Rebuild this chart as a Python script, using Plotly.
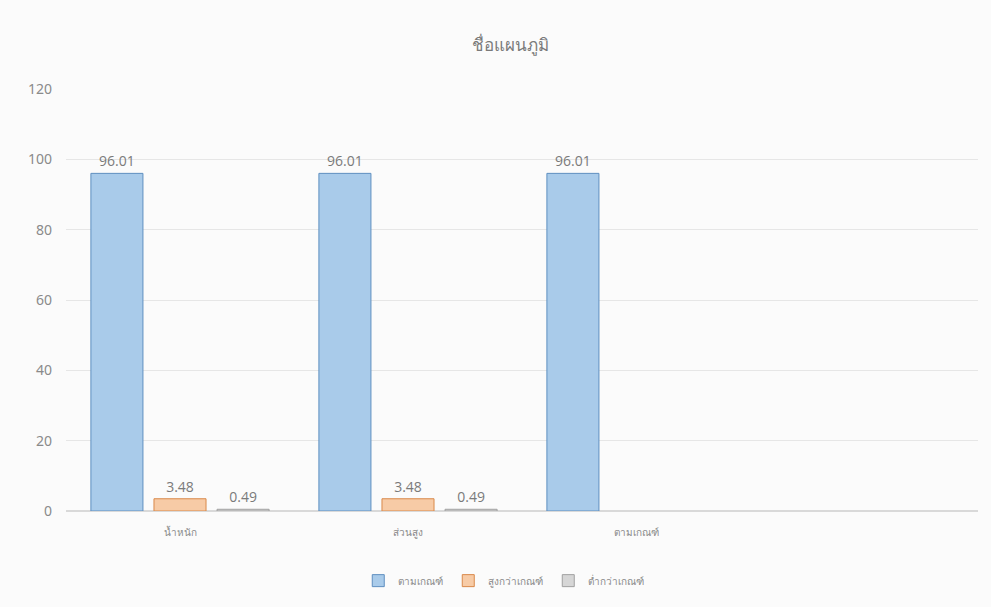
import plotly.graph_objects as go

categories = ["น้ำหนัก", "ส่วนสูง", "ตามเกณฑ์", " "]
series_names = ["ตามเกณฑ์", "สูงกว่าเกณฑ์", "ต่ำกว่าเกณฑ์"]
val_normal = [96.01, 96.01, 96.01, None]
val_above = [3.48, 3.48, None, None]
val_below = [0.49, 0.49, None, None]
y_ticks = [0, 20, 40, 60, 80, 100, 120]

fills = ["#A9CBEA", "#F7CBA6", "#D6D6D6"]
lines = ["#5F8FC0", "#D9894A", "#A0A0A0"]

fig = go.Figure()
for name, vals, fc, lc in zip(series_names, [val_normal, val_above, val_below], fills, lines):
    fig.add_trace(go.Bar(
        x=categories, y=vals, name=name,
        marker=dict(color=fc, line=dict(color=lc, width=1)),
        text=[f"{v:.2f}" if v is not None else "" for v in vals],
        textposition="outside", cliponaxis=False,
        textfont=dict(size=14, color="#7a7a7a", family="Open Sans, Noto Sans, sans-serif"),
    ))

fig.update_layout(
    width=991, height=607,
    paper_bgcolor="#fbfbfb", plot_bgcolor="#fbfbfb",
    margin=dict(l=66, r=13, t=89, b=96),
    barmode="group", bargap=0.17, bargroupgap=0.175,
    title=dict(text="ชื่อแผนภูมิ", x=0.515, xanchor="center", y=0.925, yanchor="middle",
               font=dict(size=17, color="#7a7a7a")),
    legend=dict(orientation="h", x=0.48, xanchor="center", y=-0.165, yanchor="middle",
                font=dict(size=10, color="#8a8a8a"), traceorder="normal", itemwidth=30),
    font=dict(family="Noto Sans, DejaVu Sans, sans-serif", color="#8a8a8a"),
)
fig.update_yaxes(range=[0, 120], tickvals=y_ticks, showgrid=True, gridcolor="#e6e6e6",
                 zeroline=True, zerolinecolor="#d9d9d9", showline=False,
                 tickfont=dict(size=14, color="#8a8a8a"), ticklabelstandoff=13)
fig.update_xaxes(showline=False, tickfont=dict(size=10, color="#8a8a8a"), ticklabelstandoff=14)

fig.write_html("out.html", config={"displayModeBar": False},
               post_script="document.body.style.margin='0px';")
